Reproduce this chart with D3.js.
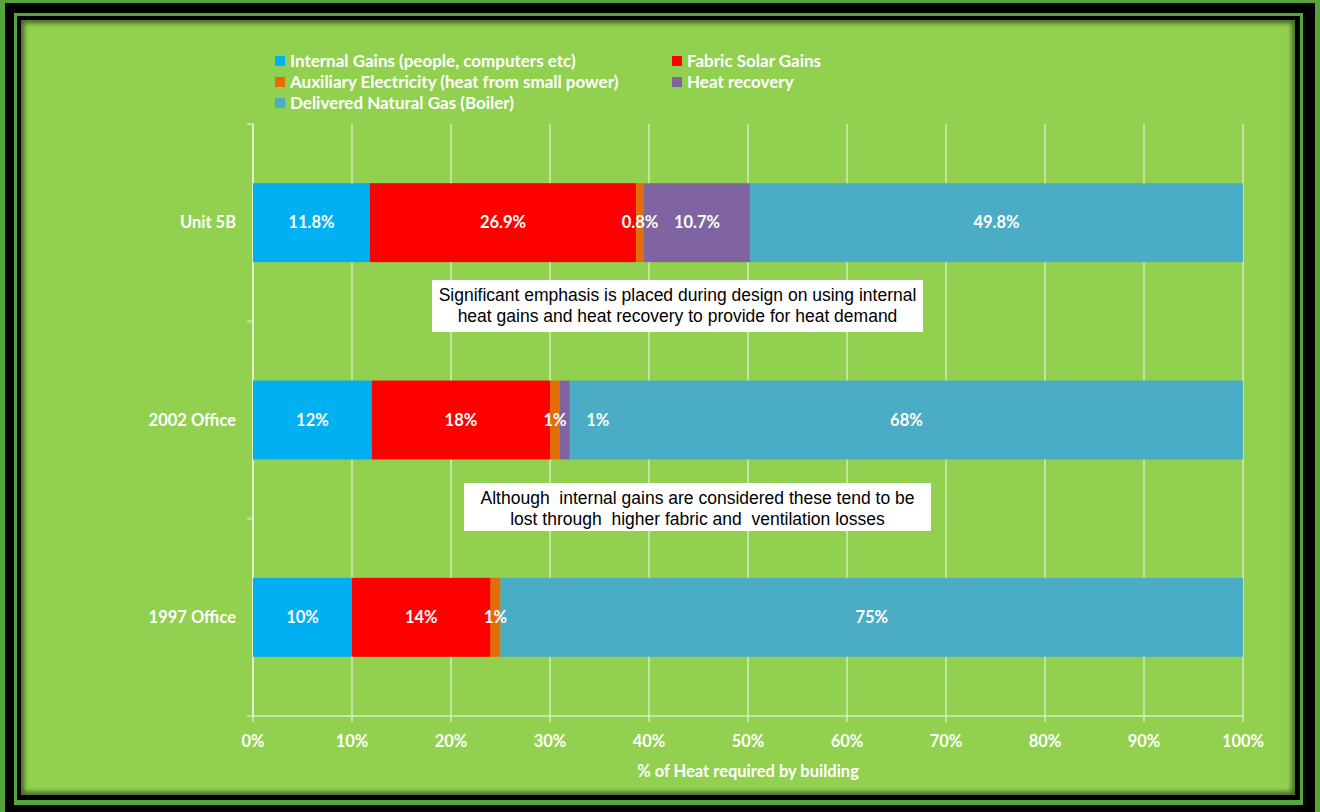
<!DOCTYPE html>
<html>
<head>
<meta charset="utf-8">
<script src="https://cdn.jsdelivr.net/npm/d3@7"></script>
<style>
  html, body { margin: 0; padding: 0; background: #56a53c; }
  svg { display: block; }
</style>
</head>
<body>
<div id="chart"></div>
<script>
// chart data
var categories = ["Unit 5B", "2002 Office", "1997 Office"];
var labelDigits = [1, 0, 0];
var seriesNames = [
    "Internal Gains (people, computers etc)",
    "Fabric Solar Gains",
    "Auxiliary Electricity (heat from small power)",
    "Heat recovery",
    "Delivered Natural Gas (Boiler)"
];
var seriesColors = ["#00b0f0", "#ff0000", "#e46c0a", "#8064a2", "#4bacc6"];
var internalGains = [11.8, 12, 10];
var fabricSolar = [26.9, 18, 14];
var auxElectric = [0.8, 1, 1];
var heatRecovery = [10.7, 1, 0];
var naturalGas = [49.8, 68, 75];
var xTicks = [0, 10, 20, 30, 40, 50, 60, 70, 80, 90, 100];
var xTitle = "% of Heat required by building";
var notes = [
    ["Significant emphasis is placed during design on using internal",
     "heat gains and heat recovery to provide for heat demand"],
    ["Although  internal gains are considered these tend to be",
     "lost through  higher fabric and  ventilation losses"]
];

var W = 1320, H = 812;
var margin = {left: 253, right: 1243, top: 124, bottom: 716};
var boldFont = "Lato, 'Open Sans', sans-serif";
var fs = 16.5;

var svg = d3.select("#chart").append("svg")
    .attr("width", W).attr("height", H);

// frame: green / black / green line / black / green panel
svg.append("rect").attr("width", W).attr("height", H).attr("fill", "#56a53c");
svg.append("rect").attr("x", 5).attr("y", 3).attr("width", 1310).attr("height", 809).attr("fill", "#000");
svg.append("rect").attr("x", 14).attr("y", 13).attr("width", 1289).attr("height", 792).attr("fill", "#56a53c");
svg.append("rect").attr("x", 17).attr("y", 16).attr("width", 1283).attr("height", 784).attr("fill", "#000");

var defs = svg.append("defs");
defs.append("clipPath").attr("id", "panelClip")
    .append("rect").attr("x", 21).attr("y", 20).attr("width", 1274).attr("height", 775);
defs.append("filter").attr("id", "blur").attr("x", "-5%").attr("y", "-5%").attr("width", "110%").attr("height", "110%")
    .append("feGaussianBlur").attr("stdDeviation", 2.5);

svg.append("rect").attr("x", 21).attr("y", 20).attr("width", 1274).attr("height", 775).attr("fill", "#92d050");
// inner shadow
svg.append("g").attr("clip-path", "url(#panelClip)")
    .append("rect").attr("x", 21).attr("y", 20).attr("width", 1274).attr("height", 775)
    .attr("fill", "none").attr("stroke", "#000").attr("stroke-width", 6)
    .attr("opacity", 0.55).attr("filter", "url(#blur)");

// scales
var x = d3.scaleLinear().domain([0, 100]).range([margin.left, margin.right]);
var y = d3.scaleBand().domain(categories).range([margin.top, margin.bottom])
    .paddingInner(0.6).paddingOuter(0.3);

// stacked data
var rows = categories.map(function (c, i) {
    return {cat: c, s0: internalGains[i], s1: fabricSolar[i], s2: auxElectric[i], s3: heatRecovery[i], s4: naturalGas[i]};
});
var stack = d3.stack().keys(["s0", "s1", "s2", "s3", "s4"]);
var layers = stack(rows);

// gridlines
svg.append("g").selectAll("line").data(xTicks).join("line")
    .attr("x1", function (d) { return x(d); }).attr("x2", function (d) { return x(d); })
    .attr("y1", margin.top).attr("y2", margin.bottom + 6)
    .attr("stroke", "#ffffff").attr("stroke-opacity", 0.9).attr("stroke-width", 1);

// axes lines (lighter)
var axisCol = "rgba(255,255,255,0.45)";
svg.append("line").attr("x1", margin.left - 6).attr("x2", margin.right)
    .attr("y1", margin.bottom).attr("y2", margin.bottom)
    .attr("stroke", axisCol).attr("stroke-width", 2);
svg.append("line").attr("x1", margin.left).attr("x2", margin.left)
    .attr("y1", margin.top).attr("y2", margin.bottom)
    .attr("stroke", axisCol).attr("stroke-width", 2);
var step = y.step();
svg.append("g").selectAll("line").data(d3.range(categories.length)).join("line")
    .attr("x1", margin.left - 6).attr("x2", margin.left)
    .attr("y1", function (d) { return margin.top + d * step; })
    .attr("y2", function (d) { return margin.top + d * step; })
    .attr("stroke", axisCol).attr("stroke-width", 2);

// bars
var layerG = svg.append("g").selectAll("g").data(layers).join("g")
    .attr("fill", function (d, i) { return seriesColors[i]; });
layerG.selectAll("rect").data(function (d) { return d; }).join("rect")
    .attr("x", function (d) { return x(d[0]); })
    .attr("width", function (d) { return x(d[1]) - x(d[0]); })
    .attr("y", function (d) { return y(d.data.cat); })
    .attr("height", y.bandwidth());

// bar labels
var nudge = {"3-1": 33};
layers.forEach(function (layer, li) {
    layer.forEach(function (d, ci) {
        var v = d[1] - d[0];
        if (v <= 0) return;
        var cx = (x(d[0]) + x(d[1])) / 2 + (nudge[li + "-" + ci] || 0);
        svg.append("text")
            .attr("x", cx)
            .attr("y", y(d.data.cat) + y.bandwidth() / 2)
            .attr("dy", "0.35em")
            .attr("text-anchor", "middle")
            .attr("font-family", boldFont).attr("font-weight", "bold").attr("font-size", fs)
            .attr("fill", "#fff")
            .text(d3.format("." + labelDigits[ci] + "f")(v) + "%");
    });
});

// category labels
svg.append("g").selectAll("text").data(categories).join("text")
    .attr("x", 236)
    .attr("y", function (d) { return y(d) + y.bandwidth() / 2; })
    .attr("dy", "0.35em")
    .attr("text-anchor", "end")
    .attr("font-family", boldFont).attr("font-weight", "bold").attr("font-size", fs)
    .attr("fill", "#fff")
    .text(function (d) { return d; });

// x tick labels
svg.append("g").selectAll("text").data(xTicks).join("text")
    .attr("x", function (d) { return x(d); })
    .attr("y", 741).attr("dy", "0.35em")
    .attr("text-anchor", "middle")
    .attr("font-family", boldFont).attr("font-weight", "bold").attr("font-size", fs)
    .attr("fill", "#fff")
    .text(function (d) { return d + "%"; });

svg.append("text")
    .attr("x", (margin.left + margin.right) / 2).attr("y", 771).attr("dy", "0.35em")
    .attr("text-anchor", "middle")
    .attr("font-family", boldFont).attr("font-weight", "bold").attr("font-size", fs)
    .attr("fill", "#fff")
    .text(xTitle);

// legend
var legendPos = [[275, 61], [672, 61], [275, 82], [672, 82], [275, 103]];
var lg = svg.append("g").selectAll("g").data(seriesNames).join("g")
    .attr("transform", function (d, i) { return "translate(" + legendPos[i][0] + "," + legendPos[i][1] + ")"; });
lg.append("rect").attr("x", 0).attr("y", -5).attr("width", 10).attr("height", 10)
    .attr("fill", function (d, i) { return seriesColors[i]; });
lg.append("text").attr("x", 15).attr("dy", "0.35em")
    .attr("font-family", boldFont).attr("font-weight", "bold").attr("font-size", 17)
    .attr("fill", "#fff")
    .text(function (d) { return d; });

// annotation boxes
var noteBoxes = [[432, 280, 491, 52], [464, 483, 467, 48]];
noteBoxes.forEach(function (b, i) {
    svg.append("rect").attr("x", b[0]).attr("y", b[1]).attr("width", b[2]).attr("height", b[3])
        .attr("fill", "#fff");
    notes[i].forEach(function (line, j) {
        svg.append("text")
            .attr("x", b[0] + b[2] / 2)
            .attr("y", b[1] + 15 + j * 21).attr("dy", "0.35em")
            .attr("text-anchor", "middle")
            .attr("font-family", "'Liberation Sans', Arial, sans-serif").attr("font-size", 17.5)
            .attr("fill", "#000")
            .style("white-space", "pre")
            .text(line);
    });
});
</script>
</body>
</html>
